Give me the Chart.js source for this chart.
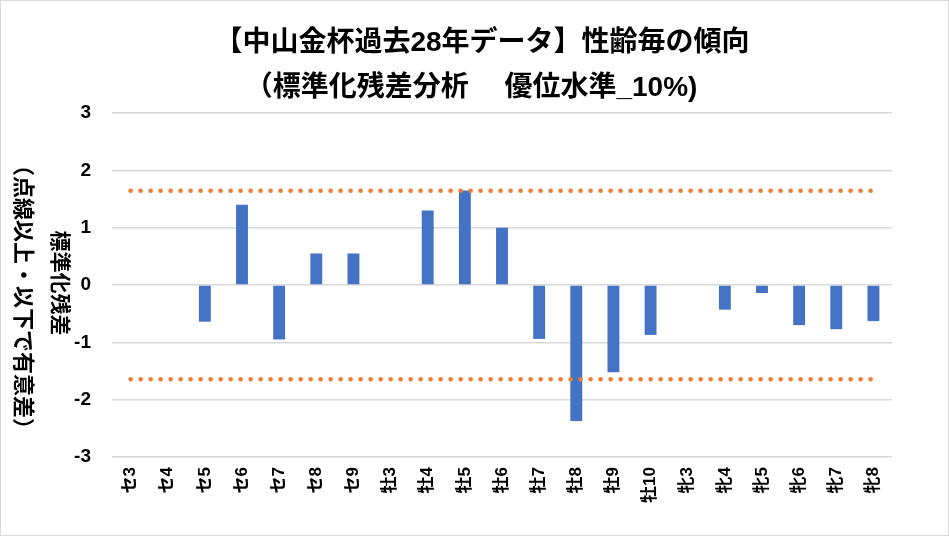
<!DOCTYPE html>
<html>
<head>
<meta charset="utf-8">
<script src="https://cdn.jsdelivr.net/npm/chart.js@4"></script>
<style>
    html, body { margin: 0; padding: 0; background: #fff; }
    #wrap { position: relative; width: 949px; height: 536px; }
</style>
</head>
<body>
<div id="wrap"><canvas id="grafico" width="949" height="536"></canvas></div>
<script>
// カテゴリ（性齢）
const categorias = ['セ3', 'セ4', 'セ5', 'セ6', 'セ7', 'セ8', 'セ9',
    '牡3', '牡4', '牡5', '牡6', '牡7', '牡8', '牡9', '牡10',
    '牝3', '牝4', '牝5', '牝6', '牝7', '牝8'];
// 標準化残差
const residuos = [0, 0, -0.64, 1.40, -0.95, 0.55, 0.55,
    0, 1.30, 1.65, 1.00, -0.94, -2.37, -1.52, -0.87,
    0, -0.43, -0.14, -0.70, -0.77, -0.63];
// 有意水準10%の境界（点線）
const limiteSuperior = [1.645, 1.645, 1.645, 1.645, 1.645, 1.645, 1.645,
    1.645, 1.645, 1.645, 1.645, 1.645, 1.645, 1.645, 1.645,
    1.645, 1.645, 1.645, 1.645, 1.645, 1.645];
const limiteInferior = [-1.645, -1.645, -1.645, -1.645, -1.645, -1.645, -1.645,
    -1.645, -1.645, -1.645, -1.645, -1.645, -1.645, -1.645, -1.645,
    -1.645, -1.645, -1.645, -1.645, -1.645, -1.645];
const ticksY = [-3, -2, -1, 0, 1, 2, 3];
const tituloLineas = ['【中山金杯過去28年データ】性齢毎の傾向', '（標準化残差分析　 優位水準_10%)'];
const tituloEje = ['標準化残差', '（点線以上・以下で有意差）'];

const fuente = '"Liberation Sans", "Noto Sans CJK JP", sans-serif';

// 図の枠・タイトル・縦軸タイトルを描く
const textos = {
    id: 'textos',
    beforeDraw(chart) {
        const c = chart.ctx;
        c.save();
        c.fillStyle = '#fff';
        c.fillRect(0, 0, chart.width, chart.height);
        c.strokeStyle = '#d9d9d9';
        c.lineWidth = 1;
        c.strokeRect(0.5, 0.5, chart.width - 1, chart.height - 1);
        c.restore();
    },
    afterDraw(chart) {
        const c = chart.ctx;
        c.save();
        c.fillStyle = '#000';
        c.textAlign = 'center';
        c.textBaseline = 'middle';
        c.font = 'bold 28px ' + fuente;
        c.fillText(tituloLineas[0], 482, 43);
        c.fillText(tituloLineas[1], 471, 88);
        // 縦軸タイトル（時計回りに90度）
        c.font = 'bold 21px ' + fuente;
        c.translate(59, 283);
        c.rotate(Math.PI / 2);
        c.fillText(tituloEje[0], 0, 0);
        c.restore();
        c.save();
        c.fillStyle = '#000';
        c.textAlign = 'center';
        c.textBaseline = 'middle';
        c.font = 'bold 22px ' + fuente;
        c.translate(22, 297);
        c.rotate(Math.PI / 2);
        c.fillText(tituloEje[1], 0, 0);
        c.restore();
    }
};

new Chart(document.getElementById('grafico').getContext('2d'), {
    data: {
        labels: categorias,
        datasets: [{
            type: 'bar',
            label: '標準化残差',
            data: residuos,
            backgroundColor: '#4472C4',
            borderWidth: 0,
            categoryPercentage: 1,
            barPercentage: 0.32,
            order: 2
        }, {
            type: 'line',
            label: '上限',
            data: limiteSuperior,
            borderColor: '#ED7D31',
            borderWidth: 4.5,
            borderDash: [0.1, 9.9],
            borderCapStyle: 'round',
            pointRadius: 0,
            fill: false,
            order: 1
        }, {
            type: 'line',
            label: '下限',
            data: limiteInferior,
            borderColor: '#ED7D31',
            borderWidth: 4.5,
            borderDash: [0.1, 9.9],
            borderCapStyle: 'round',
            pointRadius: 0,
            fill: false,
            order: 1
        }]
    },
    options: {
        responsive: false,
        animation: false,
        layout: { padding: { top: 113, right: 57, bottom: 0, left: 0 } },
        plugins: {
            legend: { display: false },
            title: { display: false },
            tooltip: { enabled: false }
        },
        scales: {
            x: {
                grid: { display: false, drawTicks: false },
                border: { display: false },
                ticks: {
                    color: '#000',
                    font: { family: fuente, size: 17, weight: 'bold' },
                    minRotation: 90,
                    maxRotation: 90,
                    padding: 10,
                    autoSkip: false
                },
                afterFit: function (escala) { escala.height = 79; }
            },
            y: {
                min: -3,
                max: 3,
                afterBuildTicks: function (escala) {
                    escala.ticks = ticksY.map(v => ({ value: v }));
                },
                grid: { color: '#d9d9d9', lineWidth: 1.5, drawTicks: false },
                border: { display: false },
                ticks: {
                    color: '#000',
                    font: { family: fuente, size: 19, weight: 'bold' },
                    padding: 21
                },
                afterFit: function (escala) { escala.width = 112; }
            }
        }
    },
    plugins: [textos]
});
</script>
</body>
</html>
